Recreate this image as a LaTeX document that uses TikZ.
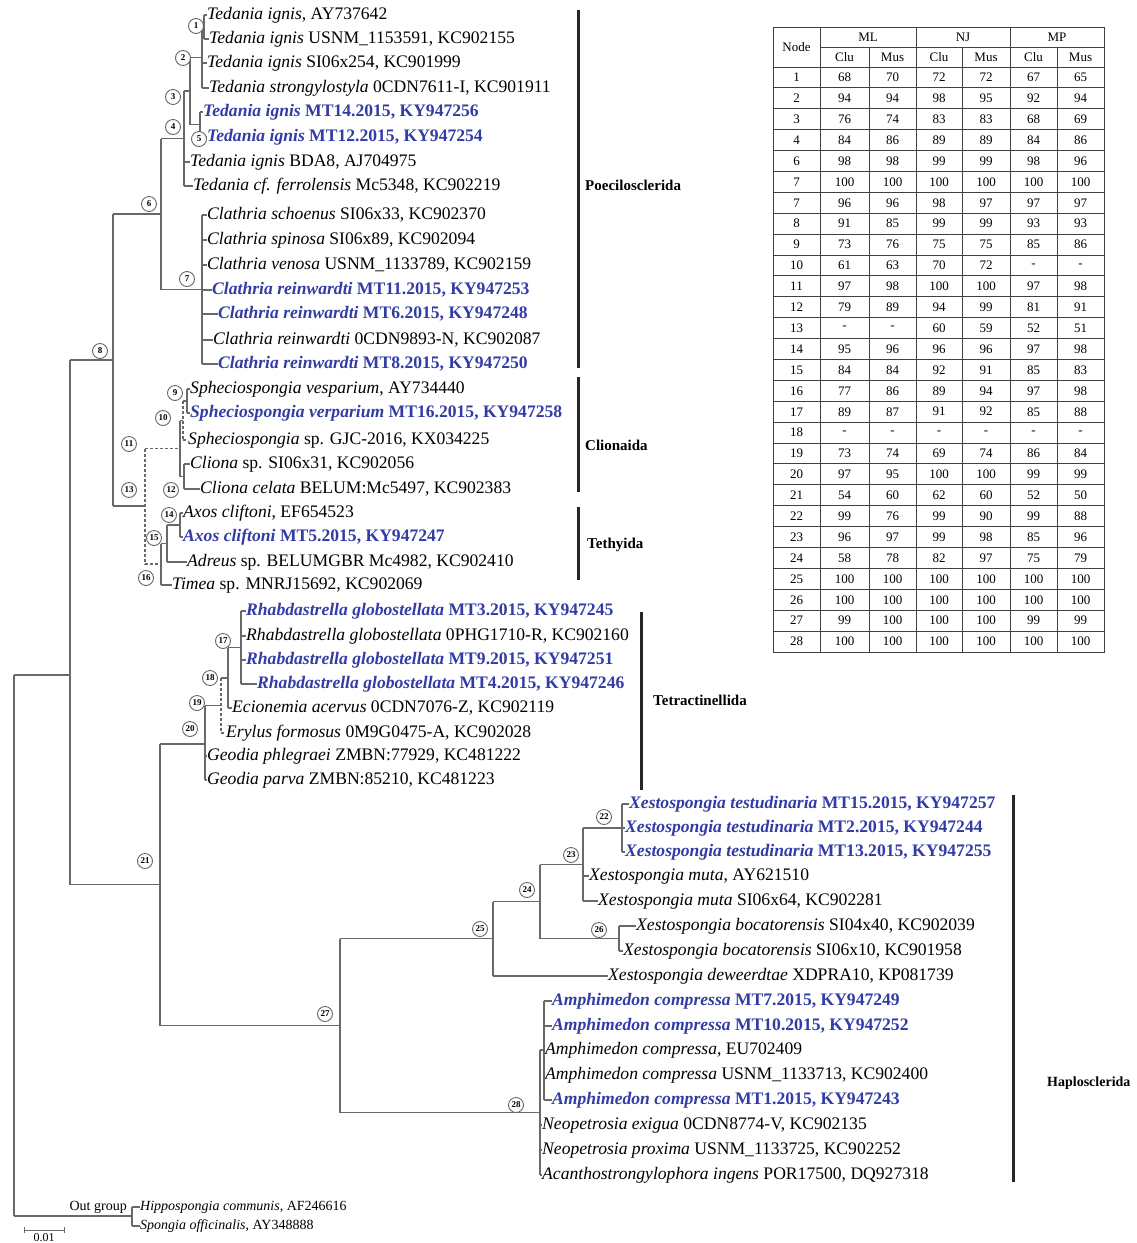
\documentclass[tikz,border=0pt]{standalone}
\usepackage{fontspec}
\setmainfont{Liberation Serif}
\definecolor{refblue}{RGB}{50,60,165}
\definecolor{brc}{RGB}{105,105,105}
\newcommand{\mytip}[3][]{\draw[brl,#1] (#2 |- #3) -- (#3.west);}
\newcommand{\mystem}[3][]{\draw[brl,#1] (#2 |- #3) -- (#3);}
\newcommand{\myvert}[4][]{\draw[brl,#1] (#2 |- #3) -- (#2 |- #4);}
\tikzset{
 brl/.style={draw=brc, line width=1.1pt},
 dsh/.style={dash pattern=on 3pt off 2pt},
 tx/.style={anchor=west, inner sep=0pt, font=\fontsize{17.6}{17.6}\selectfont, text height=11pt, text depth=3pt},
 bx/.style={tx, text=refblue, font=\fontsize{17.6}{17.6}\selectfont\bfseries},
 ox/.style={tx, font=\fontsize{14}{14}\selectfont, text height=9pt, text depth=2.5pt},
 nc/.style={circle, draw=gray!80!black, fill=white, line width=0.9pt, inner sep=0pt, minimum size=15pt, font=\fontsize{9}{9}\selectfont\bfseries},
 clade/.style={line width=3pt, draw=black!85},
 cl/.style={anchor=west, inner sep=0pt, font=\fontsize{15}{15}\selectfont\bfseries},
 tb/.style={draw=black!75, line width=1pt},
 tn/.style={inner sep=0pt, font=\fontsize{13}{13}\selectfont},
}
\begin{document}
\begin{tikzpicture}[x=1pt,y=-1pt]
\useasboundingbox (0,0) rectangle (1137,1243);
\fill[white] (0,0) rectangle (1137,1243);
% ---------- taxa ----------
\node[tx] (t1) at (207,15) {\textit{Tedania ignis}, AY737642};
\node[tx] (t2) at (209,39) {\textit{Tedania ignis} USNM\_1153591, KC902155};
\node[tx] (t3) at (207,63) {\textit{Tedania ignis} SI06x254, KC901999};
\node[tx] (t4) at (209,88) {\textit{Tedania strongylostyla} 0CDN7611-I, KC901911};
\node[bx] (t5) at (203,112) {\textit{Tedania ignis} MT14.2015, KY947256};
\node[bx] (t6) at (207,137) {\textit{Tedania ignis} MT12.2015, KY947254};
\node[tx] (t7) at (190,162) {\textit{Tedania ignis} BDA8, AJ704975};
\node[tx] (t8) at (193,186) {\textit{Tedania cf. ferrolensis} Mc5348, KC902219};
\node[tx] (t9) at (207,215) {\textit{Clathria schoenus} SI06x33, KC902370};
\node[tx] (t10) at (207,240) {\textit{Clathria spinosa} SI06x89, KC902094};
\node[tx] (t11) at (207,265) {\textit{Clathria venosa} USNM\_1133789, KC902159};
\node[bx] (t12) at (212,290) {\textit{Clathria reinwardti} MT11.2015, KY947253};
\node[bx] (t13) at (218,314) {\textit{Clathria reinwardti} MT6.2015, KY947248};
\node[tx] (t14) at (213,340) {\textit{Clathria reinwardti} 0CDN9893-N, KC902087};
\node[bx] (t15) at (218,364) {\textit{Clathria reinwardti} MT8.2015, KY947250};
\node[tx] (t16) at (190,389) {\textit{Spheciospongia vesparium}, AY734440};
\node[bx] (t17) at (190,413) {\textit{Spheciospongia verparium} MT16.2015, KY947258};
\node[tx] (t18) at (188,440) {\textit{Spheciospongia} sp. GJC-2016, KX034225};
\node[tx] (t19) at (190,464) {\textit{Cliona} sp. SI06x31, KC902056};
\node[tx] (t20) at (200,489) {\textit{Cliona celata} BELUM:Mc5497, KC902383};
\node[tx] (t21) at (183,513) {\textit{Axos cliftoni}, EF654523};
\node[bx] (t22) at (183,537) {\textit{Axos cliftoni} MT5.2015, KY947247};
\node[tx] (t23) at (187,562) {\textit{Adreus} sp. BELUMGBR Mc4982, KC902410};
\node[tx] (t24) at (172,585) {\textit{Timea} sp. MNRJ15692, KC902069};
\node[bx] (t25) at (246,611) {\textit{Rhabdastrella globostellata} MT3.2015, KY947245};
\node[tx] (t26) at (246,636) {\textit{Rhabdastrella globostellata} 0PHG1710-R, KC902160};
\node[bx] (t27) at (246,660) {\textit{Rhabdastrella globostellata} MT9.2015, KY947251};
\node[bx] (t28) at (257,684) {\textit{Rhabdastrella globostellata} MT4.2015, KY947246};
\node[tx] (t29) at (232,708) {\textit{Ecionemia acervus} 0CDN7076-Z, KC902119};
\node[tx] (t30) at (226,733) {\textit{Erylus formosus} 0M9G0475-A, KC902028};
\node[tx] (t31) at (207,756) {\textit{Geodia phlegraei} ZMBN:77929, KC481222};
\node[tx] (t32) at (207,780) {\textit{Geodia parva} ZMBN:85210, KC481223};
\node[bx] (t33) at (629,804) {\textit{Xestospongia testudinaria} MT15.2015, KY947257};
\node[bx] (t34) at (625,828) {\textit{Xestospongia testudinaria} MT2.2015, KY947244};
\node[bx] (t35) at (625,852) {\textit{Xestospongia testudinaria} MT13.2015, KY947255};
\node[tx] (t36) at (589,876) {\textit{Xestospongia muta}, AY621510};
\node[tx] (t37) at (598,901) {\textit{Xestospongia muta} SI06x64, KC902281};
\node[tx] (t38) at (636,926) {\textit{Xestospongia bocatorensis} SI04x40, KC902039};
\node[tx] (t39) at (623,951) {\textit{Xestospongia bocatorensis} SI06x10, KC901958};
\node[tx] (t40) at (608,976) {\textit{Xestospongia deweerdtae} XDPRA10, KP081739};
\node[bx] (t41) at (552,1001) {\textit{Amphimedon compressa} MT7.2015, KY947249};
\node[bx] (t42) at (552,1026) {\textit{Amphimedon compressa} MT10.2015, KY947252};
\node[tx] (t43) at (545,1050) {\textit{Amphimedon compressa}, EU702409};
\node[tx] (t44) at (545,1075) {\textit{Amphimedon compressa} USNM\_1133713, KC902400};
\node[bx] (t45) at (552,1100) {\textit{Amphimedon compressa} MT1.2015, KY947243};
\node[tx] (t46) at (542,1125) {\textit{Neopetrosia exigua} 0CDN8774-V, KC902135};
\node[tx] (t47) at (542,1150) {\textit{Neopetrosia proxima} USNM\_1133725, KC902252};
\node[tx] (t48) at (542,1175) {\textit{Acanthostrongylophora ingens} POR17500, DQ927318};
\node[ox] (t49) at (140,1207) {\textit{Hippospongia communis}, AF246616};
\node[ox] (t50) at (140,1226) {\textit{Spongia officinalis}, AY348888};
\node[ox, anchor=east] (og) at (127,1207) {Out group};
% ---------- internal nodes ----------
\coordinate (n1) at (204,27);
\coordinate (n2) at (202,57.5);
\coordinate (n5) at (200,124.5);
\coordinate (n3) at (190,91);
\coordinate (n4) at (184,138.5);
\coordinate (n7) at (202,289.5);
\coordinate (n6) at (161,214);
\coordinate (n9) at (187,401);
\coordinate (n10) at (183,420.5);
\coordinate (n12) at (184,476.5);
\coordinate (n11) at (180,448.5);
\coordinate (n14) at (180,525);
\coordinate (n15) at (167,543.5);
\coordinate (n16) at (161,564);
\coordinate (n13) at (145,506);
\coordinate (n8) at (113,360);
\coordinate (n17) at (241,647.5);
\coordinate (n18) at (228,678);
\coordinate (n19) at (221,705.5);
\coordinate (n20) at (205,744);
\coordinate (n22) at (622,828);
\coordinate (n23) at (583,864.5);
\coordinate (n26) at (619,938.5);
\coordinate (n24) at (540,901.5);
\coordinate (n25) at (493,938.75);
\coordinate (nA) at (544,1050);
\coordinate (n28) at (540,1112.5);
\coordinate (n27) at (340,1025.6);
\coordinate (n21) at (160,884.8);
\coordinate (n0) at (70,675);
\coordinate (nO) at (132,1216);
\coordinate (rt) at (14,1216);
% ---------- branches ----------
\myvert{n1}{t1}{t2} \mytip{n1}{t1} \mytip{n1}{t2}
\myvert{n2}{n1}{t4} \mystem{n2}{n1} \mytip{n2}{t3} \mytip{n2}{t4}
\myvert{n5}{t5}{t6} \mytip{n5}{t5} \mytip{n5}{t6}
\myvert{n3}{n2}{n5} \mystem{n3}{n2} \mystem{n3}{n5}
\myvert{n4}{n3}{t8} \mystem{n4}{n3} \mytip{n4}{t7} \mytip{n4}{t8}
\myvert{n7}{t9}{t15}
\foreach \k in {9,...,15} {\mytip{n7}{t\k}}
\myvert{n6}{n4}{n7} \mystem{n6}{n4} \mystem{n6}{n7}
\myvert{n9}{t16}{t17} \mytip{n9}{t16} \mytip{n9}{t17}
\myvert[dsh]{n10}{n9}{t18} \mystem[dsh]{n10}{n9} \mytip[dsh]{n10}{t18}
\myvert{n12}{t19}{t20} \mytip{n12}{t19} \mytip{n12}{t20}
\myvert{n11}{n10}{n12} \mystem{n11}{n10} \mystem{n11}{n12}
\myvert{n14}{t21}{t22} \mytip{n14}{t21} \mytip{n14}{t22}
\myvert{n15}{n14}{t23} \mystem{n15}{n14} \mytip{n15}{t23}
\myvert{n16}{n15}{t24} \mystem{n16}{n15} \mytip{n16}{t24}
\myvert[dsh]{n13}{n11}{n16} \mystem[dsh]{n13}{n11} \mystem[dsh]{n13}{n16}
\myvert{n8}{n6}{n13} \mystem{n8}{n6} \mystem{n8}{n13}
\myvert{n17}{t25}{t28}
\foreach \k in {25,...,28} {\mytip{n17}{t\k}}
\myvert{n18}{n17}{t29} \mystem{n18}{n17} \mytip{n18}{t29}
\myvert[dsh]{n19}{n18}{t30} \mystem{n19}{n18} \mytip[dsh]{n19}{t30}
\myvert{n20}{n19}{t32} \mystem{n20}{n19} \mytip{n20}{t31} \mytip{n20}{t32}
\myvert{n22}{t33}{t35}
\foreach \k in {33,34,35} {\mytip{n22}{t\k}}
\myvert{n23}{n22}{t37} \mystem{n23}{n22} \mytip{n23}{t36} \mytip{n23}{t37}
\myvert{n26}{t38}{t39} \mytip{n26}{t38} \mytip{n26}{t39}
\myvert{n24}{n23}{n26} \mystem{n24}{n23} \mystem{n24}{n26}
\myvert{n25}{n24}{t40} \mystem{n25}{n24} \mytip{n25}{t40}
\myvert{nA}{t41}{t45}
\foreach \k in {41,...,45} {\mytip{nA}{t\k}}
\myvert{n28}{nA}{t48} \mystem{n28}{nA}
\foreach \k in {46,47,48} {\mytip{n28}{t\k}}
\myvert{n27}{n25}{n28} \mystem{n27}{n25} \mystem{n27}{n28}
\myvert{n21}{n20}{n27} \mystem{n21}{n20} \mystem{n21}{n27}
\myvert{n0}{n8}{n21} \mystem{n0}{n8} \mystem{n0}{n21}
\myvert{nO}{t49}{t50} \mytip{nO}{t49} \mytip{nO}{t50}
\myvert{rt}{n0}{nO} \mystem{rt}{n0} \mystem{rt}{nO}
% ---------- node circles ----------
\node[nc] (c1) at (196,26) {1};
\node[nc] (c2) at (183,58) {2};
\node[nc] (c3) at (173,97) {3};
\node[nc] (c4) at (173,127) {4};
\node[nc] (c5) at (199,139) {5};
\node[nc] (c6) at (149,204) {6};
\node[nc] (c7) at (187,279) {7};
\node[nc] (c8) at (100,351) {8};
\node[nc] (c9) at (175,393) {9};
\node[nc] (c10) at (163,418) {10};
\node[nc] (c11) at (129,444) {11};
\node[nc] (c12) at (171,490) {12};
\node[nc] (c13) at (129,490) {13};
\node[nc] (c14) at (169,515) {14};
\node[nc] (c15) at (154,538) {15};
\node[nc] (c16) at (146,578) {16};
\node[nc] (c17) at (223,641) {17};
\node[nc] (c18) at (210,678) {18};
\node[nc] (c19) at (197,703) {19};
\node[nc] (c20) at (190,729) {20};
\node[nc] (c21) at (145,861) {21};
\node[nc] (c22) at (604,817) {22};
\node[nc] (c23) at (571,855) {23};
\node[nc] (c24) at (527,890) {24};
\node[nc] (c25) at (480,929) {25};
\node[nc] (c26) at (599,930) {26};
\node[nc] (c27) at (325,1014) {27};
\node[nc] (c28) at (516,1105) {28};
% ---------- clade bars ----------
\coordinate (pa) at (578,10); \coordinate (pb) at (578,368);
\coordinate (ca) at (578,377); \coordinate (cb) at (578,492);
\coordinate (ta) at (578,507); \coordinate (tb') at (578,580);
\coordinate (ra) at (641,612); \coordinate (rb) at (641,790);
\coordinate (ha) at (1013,795); \coordinate (hb) at (1013,1182);
\draw[clade] (pa) -- (pb);
\draw[clade] (ca) -- (cb);
\draw[clade] (ta) -- (tb');
\draw[clade] (ra) -- (rb);
\draw[clade] (ha) -- (hb);
\node[cl] (lp) at (585,185) {Poecilosclerida};
\node[cl] (lc) at (585,445) {Clionaida};
\node[cl] (lt) at (587,545) {Tethyida};
\node[cl] (lr) at (653,700) {Tetractinellida};
\node[cl, font=\fontsize{14}{14}\selectfont\bfseries] (lh) at (1047,1083) {Haplosclerida};
% ---------- scale bar ----------
\coordinate (sa) at (24,1230); \coordinate (sb) at (64,1230);
\draw[brl, line width=0.9pt] (sa) -- (sb);
\draw[brl, line width=0.9pt] ([yshift=-3pt]sa) -- ([yshift=3pt]sa);
\draw[brl, line width=0.9pt] ([yshift=-3pt]sb) -- ([yshift=3pt]sb);
\node[inner sep=0pt, font=\fontsize{12}{12}\selectfont] (sl) at (44,1238) {0.01};
% ---------- table ----------
\draw[tb] (773,27) rectangle (1104,652);
\draw[tb] (820,47) -- (1104,47);
\draw[tb] (773,67) -- (1104,67);
\foreach \i in {1,...,27} {\draw[tb] (773,67+\i*20.893) -- (1104,67+\i*20.893);}
\foreach \xx in {820,916,1010} {\draw[tb] (\xx,27) -- (\xx,652);}
\foreach \xx in {869,962,1057} {\draw[tb] (\xx,47) -- (\xx,652);}
\node[tn] (hn) at (796.5,47) {Node};
\node[tn] (hml) at (868,37) {ML};
\node[tn] (hnj) at (963,37) {NJ};
\node[tn] (hmp) at (1057,37) {MP};
\foreach \xx/\s [count=\j] in {844.5/Clu,892.5/Mus,939/Clu,986/Mus,1033.5/Clu,1080.5/Mus}
  {\node[tn] (hs\j) at (\xx,57) {\s};}
\foreach \n/\a/\b/\c/\d/\e/\f [count=\i] in {
 1/68/70/72/72/67/65, 2/94/94/98/95/92/94, 3/76/74/83/83/68/69, 4/84/86/89/89/84/86,
 6/98/98/99/99/98/96, 7/100/100/100/100/100/100, 7/96/96/98/97/97/97, 8/91/85/99/99/93/93,
 9/73/76/75/75/85/86, 10/61/63/70/72/-/-, 11/97/98/100/100/97/98, 12/79/89/94/99/81/91,
 13/-/-/60/59/52/51, 14/95/96/96/96/97/98, 15/84/84/92/91/85/83, 16/77/86/89/94/97/98,
 17/89/87/91/92/85/88, 18/-/-/-/-/-/-, 19/73/74/69/74/86/84, 20/97/95/100/100/99/99,
 21/54/60/62/60/52/50, 22/99/76/99/90/99/88, 23/96/97/99/98/85/96, 24/58/78/82/97/75/79,
 25/100/100/100/100/100/100, 26/100/100/100/100/100/100, 27/99/100/100/100/99/99,
 28/100/100/100/100/100/100}
{
 \pgfmathsetmacro{\yy}{67+(\i-0.5)*20.893}
 \node[tn] (r\i c0) at (796.5,\yy) {\n};
 \node[tn] (r\i c1) at (844.5,\yy) {\a};
 \node[tn] (r\i c2) at (892.5,\yy) {\b};
 \node[tn] (r\i c3) at (939,\yy) {\c};
 \node[tn] (r\i c4) at (986,\yy) {\d};
 \node[tn] (r\i c5) at (1033.5,\yy) {\e};
 \node[tn] (r\i c6) at (1080.5,\yy) {\f};
}
\end{tikzpicture}
\end{document}
